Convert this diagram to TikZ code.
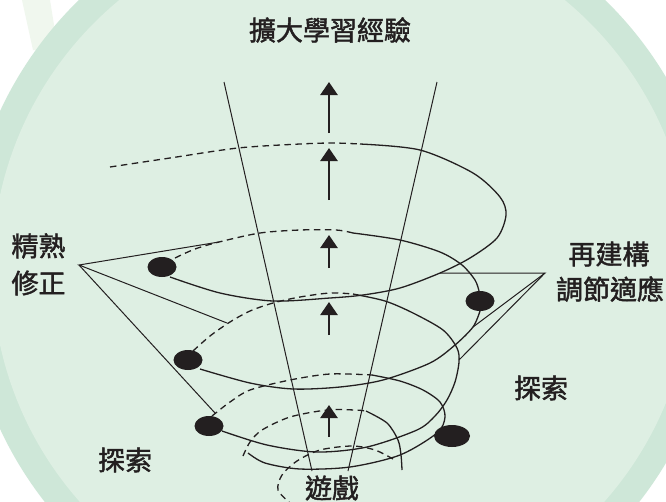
\documentclass[tikz,border=0pt]{standalone}
\usepackage{fontspec}
\newfontfamily\cjk{Noto Sans CJK TC}[FakeBold=1.6]
\usetikzlibrary{arrows.meta,shapes.geometric}
\definecolor{bandgreen}{HTML}{CEE7D8}
\definecolor{innergreen}{HTML}{DEEFE3}
\definecolor{paleband}{HTML}{F0F7EE}
\definecolor{ink}{HTML}{231F20}
\begin{document}
\begin{tikzpicture}[x=1pt,y=-1pt,
  lbl/.style={font=\cjk\fontsize{27}{31}\selectfont, text=ink, inner sep=0pt},
  spiral/.style={line width=1.3pt, ink},
  back/.style={spiral, dash pattern=on 6.5pt off 4.5pt},
  cone/.style={line width=1pt, ink},
  lead/.style={line width=1pt, ink},
  upar/.style={line width=2.6pt, ink, -{Triangle[width=17pt,length=13pt]}},
  dotn/.style={ellipse, fill=ink, inner sep=0pt, minimum width=29pt, minimum height=20pt}]
\useasboundingbox (0,0) rectangle (666,501);
\clip (0,0) rectangle (666,501);
% background
\fill[white] (0,0) rectangle (666,501);
\fill[paleband] (22,0) -- (50,0) -- (58,50) -- (33,50) -- cycle;
\fill[bandgreen] (342,270) circle[radius=377pt];
\fill[innergreen] (342,270) circle[radius=350pt];

% labels
\node[lbl] (title) at (330,30) {擴大學習經驗};
\node[lbl] (jingshu) at (38.5,246) {精熟};
\node[lbl] (xiuzheng) at (38.5,283) {修正};
\node[lbl] (zaijiangou) at (609,254) {再建構};
\node[lbl] (tiaojie) at (610,289) {調節適應};
\node[lbl] (tansuoR) at (541,388) {探索};
\node[lbl] (tansuoL) at (125,460) {探索};
\node[lbl] (youxi) at (332,488) {遊戲};

% cone
\coordinate (cl1) at (224,82); \coordinate (cl2) at (312,471);
\coordinate (cr1) at (437,82); \coordinate (cr2) at (348,471);
\draw[cone] (cl1) -- (cl2);
\draw[cone] (cr1) -- (cr2);

% arrows
\coordinate (a1b) at (329,133); \coordinate (a1t) at (329,82);
\coordinate (a2b) at (329,200); \coordinate (a2t) at (329,148);
\coordinate (a3b) at (329,268); \coordinate (a3t) at (329,235);
\coordinate (a4b) at (329,335); \coordinate (a4t) at (329,302);
\coordinate (a5b) at (329,437); \coordinate (a5t) at (329,405);
\draw[upar] (a1b) -- (a1t);
\draw[upar] (a2b) -- (a2t);
\draw[upar] (a3b) -- (a3t);
\draw[upar] (a4b) -- (a4t);
\draw[upar] (a5b) -- (a5t);

% spiral: loop E (top)
\draw[back] plot[smooth] coordinates {(110,167) (170,158) (238,148) (300,144) (333,143) (360,144)};
\draw[spiral] plot[smooth] coordinates {(360,144) (420,150) (473,173) (500,197) (506,215) (497,238) (470,258) (440,273) (400,288) (363,295) (330,298) (273,301) (220,293) (170,277)};
% loop D
\draw[back] plot[smooth] coordinates {(175,258) (195,249) (219,242) (260,233) (300,230) (336,230) (353,233)};
\draw[spiral] plot[smooth] coordinates {(353,233) (400,240) (440,252) (462,265) (475,280) (479,291)};
\draw[spiral] plot[smooth] coordinates {(480,311) (473,327) (455,345) (430,363) (383,380) (340,387) (293,389) (250,383) (200,369)};
% loop C
\draw[back] plot[smooth] coordinates {(193,351) (210,336) (230,322) (250,311) (273,303) (300,297) (330,293) (353,294)};
\draw[spiral] plot[smooth] coordinates {(353,294) (385,301) (413,313) (443,330) (457,348) (459,362) (455,382) (447,400) (435,416) (417,430) (367,447) (317,452) (267,445) (222,431)};
% loop B
\draw[back] plot[smooth] coordinates {(212,416) (217,412) (230,402) (250,390) (290,380) (330,374) (372,375)};
\draw[spiral] plot[smooth] coordinates {(372,375) (400,381) (423,390) (440,402) (445,417) (437,433) (400,455) (350,467) (300,469) (265,463) (248,453)};
% loop A
\draw[back] plot[smooth] coordinates {(243,456) (250,442) (262,430) (290,417) (327,410) (355,410) (366,411)};
\draw[spiral] plot[smooth] coordinates {(366,411) (387,423) (398,440) (401,455) (402,470)};
% innermost dashed turn round the start
\draw[back] plot[smooth] coordinates {(393,459) (375,450) (352,446) (320,450) (297,461) (282,475) (278,490) (290,503)};

% dots
\node[dotn] (d1) at (162,267) {};
\node[dotn] (d2) at (480,301) {};
\node[dotn] (d3) at (188,360) {};
\node[dotn] (d4) at (209,426) {};
\node[dotn, minimum width=36pt, minimum height=22pt] (d5) at (452,436) {};

% leader lines
\coordinate (apL) at (79,265);
\coordinate (eL1) at (219,242);
\coordinate (eL2) at (227,323);
\coordinate (eL3) at (215,413);
\coordinate (apR) at (545,273);
\coordinate (eR1) at (440,273);
\coordinate (eR2) at (473,327);
\coordinate (eR3) at (459,360);
\draw[lead] (eL1) -- (apL) -- (eL2);
\draw[lead] (apL) -- (eL3);
\draw[lead] (eR1) -- (apR) -- (eR2);
\draw[lead] (apR) -- (eR3);
\end{tikzpicture}
\end{document}
